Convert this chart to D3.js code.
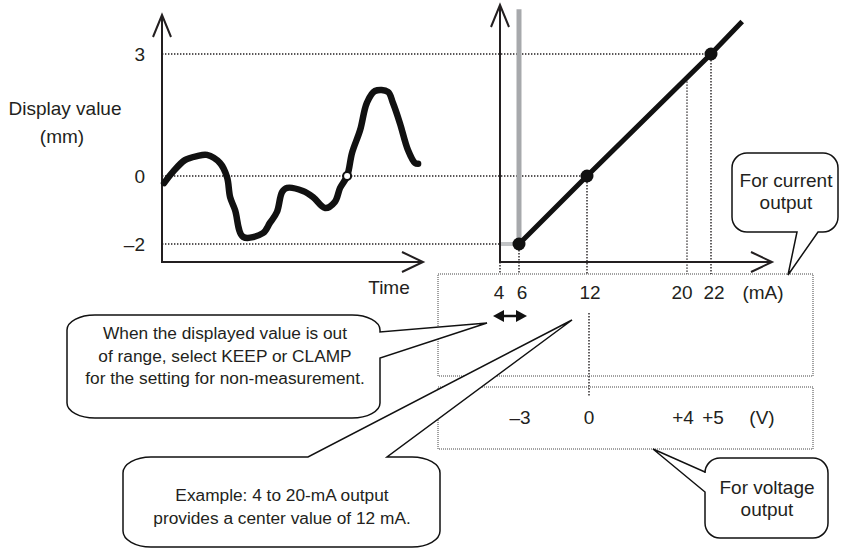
<!DOCTYPE html>
<html><head><meta charset="utf-8">
<script src="https://cdn.jsdelivr.net/npm/d3@7"></script>
<style>body{margin:0;background:#fff}svg{display:block}text{font-family:"Liberation Sans",Arial,sans-serif;fill:#231f20}</style>
</head><body><svg id="c" width="844" height="550"></svg>
<script>
// ---- data ----
const timeT = [0.08,0.42,0.88,1.35,1.73,2.23,2.5,2.62,2.81,3.12,3.88,4.15,4.42,4.62,4.81,5.42,5.81,6.27,6.65,6.85,7.12,7.31,7.62,7.88,8.19,8.69,8.88,9.15,9.46,9.73,9.85];
const displayV = [-0.21,0.10,0.39,0.49,0.52,0.32,-0.03,-0.62,-1.0,-1.79,-1.68,-1.38,-1.06,-0.47,-0.35,-0.44,-0.62,-0.94,-0.76,-0.35,0,0.57,1.13,1.80,2.09,2.07,1.80,1.30,0.64,0.32,0.30];
const crossT = 7.12, crossV = 0;
const displayTicks = [3, 0, -2];
const displayTickLabels = ["3", "0", "\u20132"];
const mATicks = [4, 6, 12, 20, 22];
const mALabels = ["4", "6", "12", "20", "22"];
const voltTicks = [-3, 0, 4, 5];
const voltLabels = ["\u20133", "0", "+4", "+5"];
const outMA = [6, 12, 22, 24.6];
const outV = [-2, 0, 3, 3.8];
const pointMA = [6, 12, 22];
const pointV = [-2, 0, 3];
const dropMA = [6, 12, 20, 22];
const dropV = [-2, 0, 2.4, 3];
const clampMA = [4, 6];
const clampV = -2;
const clampTop = 4.1;

// ---- scales ----
const xT = d3.scaleLinear().domain([0, 10]).range([162, 422]);
const yV = d3.scaleLinear().domain([-2, 0, 3]).range([244, 176, 54]);
const xA = d3.scaleLinear().domain([4, 6, 12, 20, 22]).range([500, 519, 587, 687, 711]);
const xVolt = d3.scaleLinear().domain([-3, 0, 4, 5]).range([519, 587, 687, 711]);

const svg = d3.select("#c");
const ink = "#231f20";

// dotted horizontal guides
const guideEnd = {"3": xA(22), "0": xA(12), "-2": xA(4)};
displayTicks.forEach(v => {
  svg.append("line").attr("x1", xT(0)).attr("x2", guideEnd[String(v)])
    .attr("y1", yV(v)).attr("y2", yV(v))
    .attr("stroke", ink).attr("stroke-width", 1.4).attr("stroke-dasharray", "1.4,1.6");
});
// tick labels
displayTicks.forEach((v, i) => {
  svg.append("text").attr("x", 145).attr("y", yV(v)).attr("dy", "0.35em")
    .attr("text-anchor", "end").attr("font-size", 19).text(displayTickLabels[i]);
});
svg.append("text").attr("x", 65).attr("y", 108).attr("dy", "0.35em").attr("text-anchor", "middle").attr("font-size", 19).text("Display value");
svg.append("text").attr("x", 62).attr("y", 136).attr("dy", "0.35em").attr("text-anchor", "middle").attr("font-size", 19).text("(mm)");
svg.append("text").attr("x", 389).attr("y", 287).attr("dy", "0.35em").attr("text-anchor", "middle").attr("font-size", 19).text("Time");

// axes helper
function axisV(x, yTop, yBot) {
  svg.append("line").attr("x1", x).attr("x2", x).attr("y1", yBot).attr("y2", yTop).attr("stroke", ink).attr("stroke-width", 2);
  svg.append("path").attr("d", `M${x-9},${yTop+22}L${x},${yTop}L${x+9},${yTop+22}`).attr("fill", "none").attr("stroke", ink).attr("stroke-width", 2);
}
function axisH(y, x0, x1) {
  svg.append("line").attr("x1", x0).attr("x2", x1).attr("y1", y).attr("y2", y).attr("stroke", ink).attr("stroke-width", 2);
  svg.append("path").attr("d", `M${x1-21},${y-10}L${x1},${y}L${x1-21},${y+10}`).attr("fill", "none").attr("stroke", ink).attr("stroke-width", 2);
}
axisV(xT(0), 15, 263);
axisH(262, xT(0) - 1, 423);

// left curve
const curve = d3.line().x((d, i) => xT(timeT[i])).y((d, i) => yV(displayV[i])).curve(d3.curveCatmullRom.alpha(0.5));
svg.append("path").attr("d", curve(timeT)).attr("fill", "none").attr("stroke", "#111").attr("stroke-width", 6.5)
  .attr("stroke-linejoin", "round").attr("stroke-linecap", "round");
svg.append("circle").attr("cx", xT(crossT)).attr("cy", yV(crossV)).attr("r", 4).attr("fill", "#fff").attr("stroke", "#111").attr("stroke-width", 2);

// dotted boxes
const boxTop = 274;
svg.append("rect").attr("x", 438).attr("y", boxTop).attr("width", 375).attr("height", 102)
  .attr("fill", "none").attr("stroke", "#444").attr("stroke-width", 1).attr("stroke-dasharray", "1,1");
svg.append("rect").attr("x", 438).attr("y", 387).attr("width", 375).attr("height", 62)
  .attr("fill", "none").attr("stroke", "#444").attr("stroke-width", 1).attr("stroke-dasharray", "1,1");

// vertical drops
svg.append("line").attr("x1", xA(4)).attr("x2", xA(4)).attr("y1", 262).attr("y2", boxTop)
  .attr("stroke", ink).attr("stroke-width", 1.4).attr("stroke-dasharray", "1.4,1.6");
dropMA.forEach((m, i) => {
  svg.append("line").attr("x1", xA(m)).attr("x2", xA(m)).attr("y1", yV(dropV[i])).attr("y2", boxTop)
    .attr("stroke", ink).attr("stroke-width", 1.4).attr("stroke-dasharray", "1.4,1.6");
});
svg.append("line").attr("x1", xA(12) + 2).attr("x2", xA(12) + 2).attr("y1", 313).attr("y2", 397)
  .attr("stroke", ink).attr("stroke-width", 1.4).attr("stroke-dasharray", "1.4,1.6");

// clamp grey
svg.append("line").attr("x1", xA(clampMA[0])).attr("x2", xA(clampMA[1])).attr("y1", yV(clampV)).attr("y2", yV(clampV))
  .attr("stroke", "#c2c4c6").attr("stroke-width", 4);
svg.append("line").attr("x1", xA(6)).attr("x2", xA(6)).attr("y1", yV(clampV)).attr("y2", yV(clampTop))
  .attr("stroke", "#a7a9ac").attr("stroke-width", 5);

// right axes
axisV(xA(4), 5, 263);
axisH(262, xA(4) - 1, 772);

// output line
const outLine = d3.line().x((d, i) => xA(outMA[i])).y((d, i) => yV(outV[i]));
svg.append("path").attr("d", outLine(outMA)).attr("fill", "none").attr("stroke", "#111").attr("stroke-width", 5);
pointMA.forEach((m, i) => {
  svg.append("circle").attr("cx", xA(m)).attr("cy", yV(pointV[i])).attr("r", 6.5).attr("fill", "#111");
});

// mA labels
const labelDx = [-1, 3, 3, -5, 3];
mATicks.forEach((m, i) => {
  svg.append("text").attr("x", xA(m) + labelDx[i]).attr("y", 292).attr("dy", "0.35em").attr("text-anchor", "middle").attr("font-size", 19).text(mALabels[i]);
});
svg.append("text").attr("x", 763).attr("y", 292).attr("dy", "0.35em").attr("text-anchor", "middle").attr("font-size", 19).text("(mA)");
const vDx = [1, 2, -4, 2];
voltTicks.forEach((v, i) => {
  svg.append("text").attr("x", xVolt(v) + vDx[i]).attr("y", 417).attr("dy", "0.35em").attr("text-anchor", "middle").attr("font-size", 19).text(voltLabels[i]);
});
svg.append("text").attr("x", 762).attr("y", 417).attr("dy", "0.35em").attr("text-anchor", "middle").attr("font-size", 19).text("(V)");

// double arrow
{
  const y = 316, a = xA(4) - 7, b = xA(6) + 8;
  svg.append("line").attr("x1", a + 8).attr("x2", b - 8).attr("y1", y).attr("y2", y).attr("stroke", "#111").attr("stroke-width", 2.5);
  svg.append("path").attr("d", `M${a},${y}L${a+11},${y-6}L${a+11},${y+6}Z`).attr("fill", "#111");
  svg.append("path").attr("d", `M${b},${y}L${b-11},${y-6}L${b-11},${y+6}Z`).attr("fill", "#111");
}

// callouts
function bubble(x0, y0, x1, y1, rx, ry, p) {
  let d = `M${x0+rx},${y0}`;
  if (p.edge === "top") d += `L${p.a},${y0}L${p.tip[0]},${p.tip[1]}L${p.b},${y0}`;
  d += `L${x1-rx},${y0}A${rx},${ry} 0 0 1 ${x1},${y0+ry}`;
  if (p.edge === "right") d += `L${x1},${p.a}L${p.tip[0]},${p.tip[1]}L${x1},${p.b}`;
  d += `L${x1},${y1-ry}A${rx},${ry} 0 0 1 ${x1-rx},${y1}`;
  if (p.edge === "bottom") d += `L${p.a},${y1}L${p.tip[0]},${p.tip[1]}L${p.b},${y1}`;
  d += `L${x0+rx},${y1}A${rx},${ry} 0 0 1 ${x0},${y1-ry}`;
  if (p.edge === "left") d += `L${x0},${p.a}L${p.tip[0]},${p.tip[1]}L${x0},${p.b}`;
  d += `L${x0},${y0+ry}A${rx},${ry} 0 0 1 ${x0+rx},${y0}Z`;
  svg.append("path").attr("d", d).attr("fill", "#fff").attr("stroke", "#111").attr("stroke-width", 1.5).attr("stroke-linejoin", "miter");
}
function lines(cx, ys, arr, fs) {
  arr.forEach((t, i) => svg.append("text").attr("x", cx).attr("y", ys[i]).attr("dy", "0.35em").attr("text-anchor", "middle").attr("font-size", fs).text(t));
}
bubble(67, 315, 380, 418, 28, 15, {edge: "right", a: 332, b: 358, tip: [487, 323]});
lines(225, [333, 356, 378], ["When the displayed value is out", "of range, select KEEP or CLAMP", "for the setting for non-measurement."], 17.3);
bubble(123, 457, 440, 547, 28, 16, {edge: "top", a: 308, b: 387, tip: [572, 320]});
lines(282, [495, 518], ["Example: 4 to 20-mA output", "provides a center value of 12 mA."], 17.3);
bubble(732, 153, 838, 232, 15, 15, {edge: "bottom", a: 818, b: 797, tip: [788, 275]});
lines(786, [180, 202], ["For current", "output"], 19);
bubble(705, 458, 828, 538, 15, 15, {edge: "left", a: 492, b: 472, tip: [653, 449]});
lines(767, [487, 509], ["For voltage", "output"], 19);
</script></body></html>
